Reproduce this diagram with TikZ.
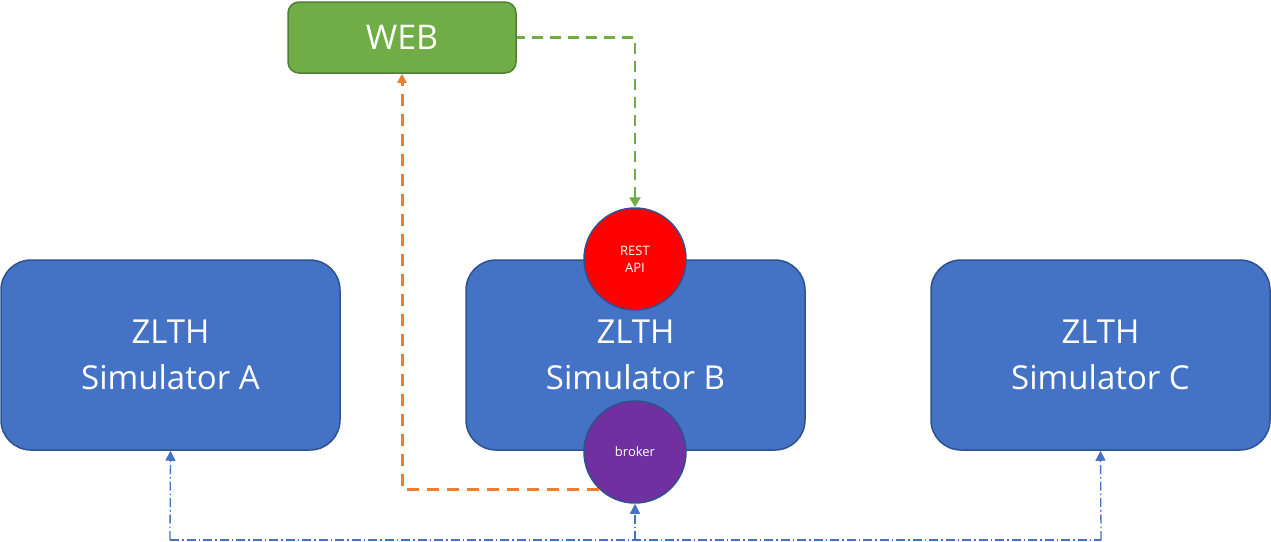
\documentclass[tikz,border=0pt]{standalone}
\usepackage{fontspec}
\setmainfont{Open Sans}
\usetikzlibrary{arrows.meta}
\definecolor{simblue}{HTML}{4472C4}
\definecolor{simborder}{HTML}{2F528F}
\definecolor{webgreen}{HTML}{70AD47}
\definecolor{webborder}{HTML}{507E32}
\definecolor{brokerpurple}{HTML}{7030A0}
\definecolor{linkorange}{HTML}{ED7D31}
\tikzset{
  sim/.style={draw=simborder, line width=1.5pt, fill=simblue, rounded corners=30pt,
    minimum width=339pt, minimum height=190pt, inner sep=0pt, text=white,
    font=\fontsize{33}{46}\selectfont, align=center},
  webbox/.style={draw=webborder, line width=1.5pt, fill=webgreen, rounded corners=11pt,
    minimum width=228pt, minimum height=71pt, inner sep=0pt, text=white,
    font=\fontsize{34}{40}\selectfont},
  port/.style={circle, draw=simborder, line width=1.5pt, minimum size=102pt, inner sep=0pt,
    text=white, font=\fontsize{13}{17}\selectfont, align=center},
  weblink/.style={draw=webgreen, line width=2.5pt, dash pattern=on 11pt off 7pt},
  brokerlink/.style={draw=linkorange, line width=3pt, dash pattern=on 12pt off 8pt},
  buslink/.style={draw=simblue, line width=1.3pt, dash pattern=on 9pt off 3pt on 1.5pt off 3pt},
}
\begin{document}
\begin{tikzpicture}[x=1pt,y=-1pt]
\useasboundingbox (0,0) rectangle (1271,541);
\node[sim] (A) at (170.5,355) {ZLTH\\Simulator A};
\node[sim] (B) at (635.5,355) {ZLTH\\Simulator B};
\node[sim] (C) at (1100.5,355) {ZLTH\\Simulator C};
\node[webbox] (web) at (402,37.5) {WEB};
\node[port, fill=red] (rest) at (635,259) {REST\\API};
\node[port, fill=brokerpurple] (broker) at (635,452) {broker};
\coordinate (busA) at (170,540);
\coordinate (busB) at (635,540);
\coordinate (busC) at (1101,540);
\draw[weblink, {Triangle[width=11pt,length=10pt]}-] (rest.north) |- (web.east);
\draw[brokerlink, -{Triangle[width=9pt,length=9pt]}] (broker.226.6) -| (web.south);
\draw[buslink] (busA) -- (busC);
\draw[buslink, -{Triangle[width=10pt,length=10pt]}] (busA) -- (A.south);
\draw[buslink, -{Triangle[width=10pt,length=10pt]}] (busB) -- (broker.south);
\draw[buslink, -{Triangle[width=10pt,length=10pt]}] (busC) -- (C.south);
\end{tikzpicture}
\end{document}
